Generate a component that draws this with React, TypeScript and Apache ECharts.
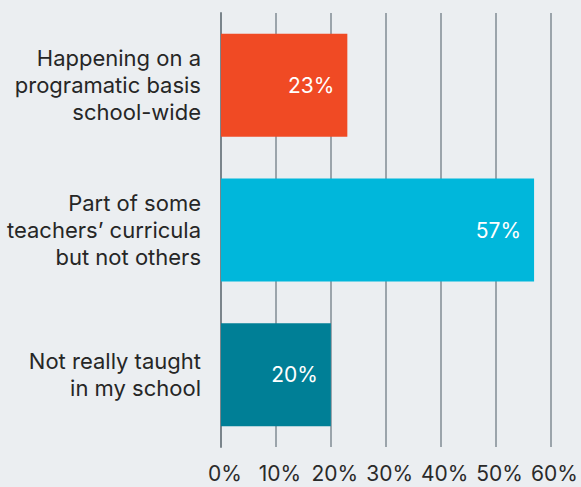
import React, { useEffect, useRef } from "react";
import * as echarts from "echarts";

const categories = [
  "Happening on a\nprogramatic basis\nschool-wide",
  "Part of some\nteachers’ curricula\nbut not others",
  "Not really taught\nin my school",
];
const values = [23, 57, 20];
const barColors = ["#f04a24", "#00b7db", "#007f96"];
const xTicks = { min: 0, max: 60, interval: 10 };

export default function App() {
  const ref = useRef<HTMLDivElement>(null);
  useEffect(() => {
    if (!ref.current) return;
    const chart = echarts.init(ref.current, null, { renderer: "svg" });
    chart.setOption({
      animation: false,
      backgroundColor: "#ebeef1",
      textStyle: { fontFamily: "Inter" },
      grid: { left: 221, right: 30, top: 13, bottom: 40, containLabel: false },
      xAxis: {
        type: "value",
        min: xTicks.min,
        max: xTicks.max,
        interval: xTicks.interval,
        axisLine: { show: false },
        axisTick: { show: false },
        splitLine: { show: true, lineStyle: { color: "#9ba4ab", width: 2 } },
        axisLabel: {
          formatter: "{value}%",
          fontSize: 21,
          color: "#2a2a2a",
          margin: 16,
          padding: [0, 0, 0, 8],
        },
      },
      yAxis: {
        type: "category",
        inverse: true,
        data: categories,
        axisLine: { show: true, lineStyle: { color: "#7a848b", width: 2 } },
        axisTick: { show: false },
        axisLabel: {
          fontSize: 22,
          lineHeight: 27,
          color: "#262626",
          margin: 20,
          align: "right",
        },
      },
      series: [
        {
          type: "bar",
          barWidth: 103,
          data: values.map((v, i) => ({ value: v, itemStyle: { color: barColors[i] } })),
          label: {
            show: true,
            position: "insideRight",
            distance: 13,
            color: "#ffffff",
            fontSize: 21,
            formatter: "{c}%",
          },
        },
      ],
    });
    return () => chart.dispose();
  }, []);
  return (
    <div
      ref={ref}
      style={{ position: "fixed", left: 0, top: 0, width: 581, height: 487 }}
    />
  );
}
